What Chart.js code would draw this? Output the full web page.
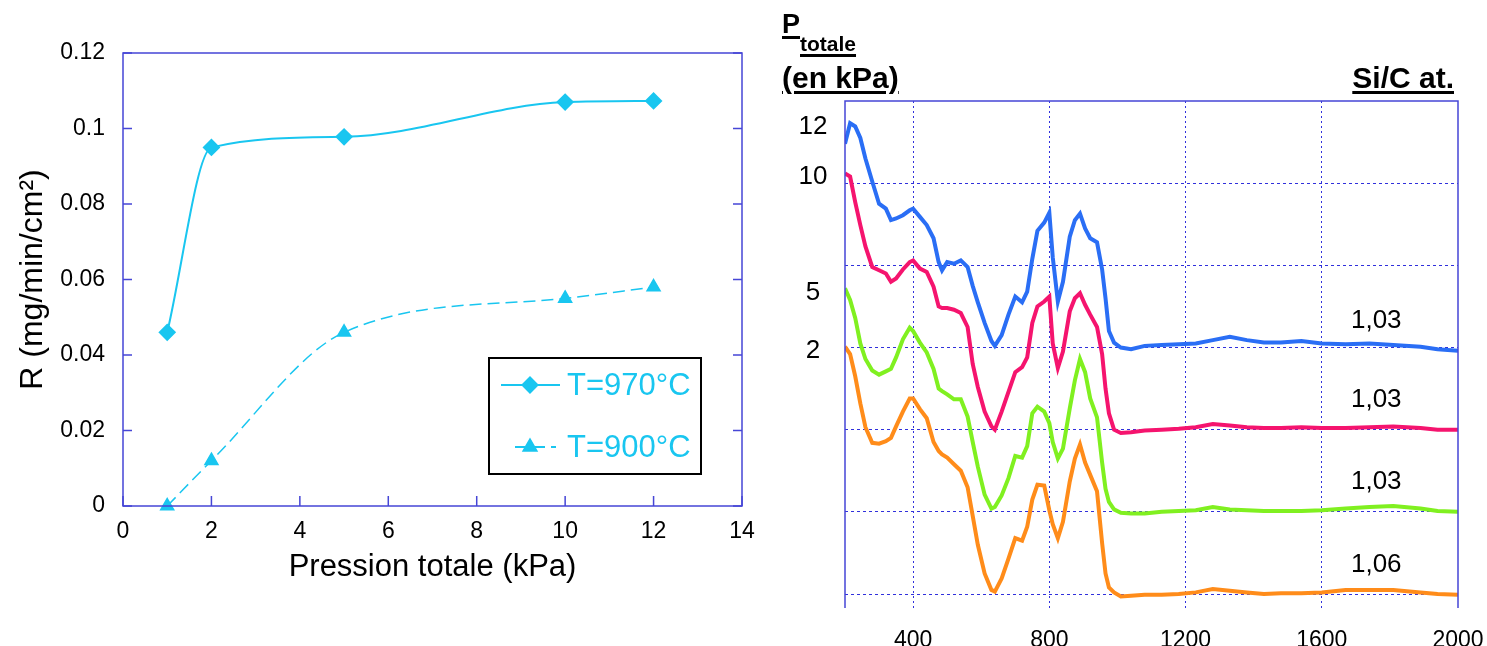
<!DOCTYPE html>
<html>
<head>
<meta charset="utf-8">
<script src="https://cdn.jsdelivr.net/npm/chart.js@4.4.0/dist/chart.umd.min.js"></script>
<style>
  body { margin: 0; background: #fff; width: 1487px; height: 646px; overflow: hidden; position: relative;
         font-family: "Liberation Sans", Arial, sans-serif; }
  #leftBox { position: absolute; left: 0; top: 0; width: 760px; height: 646px; }
  #rightBox { position: absolute; left: 760px; top: 0; width: 727px; height: 646px; }
  .hdr { position: absolute; font-weight: bold; line-height: 1; white-space: nowrap; color: #000;
         text-decoration: underline; text-decoration-thickness: 3px; text-underline-offset: 3px; }
</style>
</head>
<body>
<div id="leftBox"><canvas id="rate_chart"></canvas></div>
<div id="rightBox"><canvas id="spectra_chart"></canvas></div>
<div class="hdr" style="left:782px;top:11px;font-size:27px;">P</div>
<div class="hdr" style="left:800px;top:33px;font-size:21px;">totale</div>
<div class="hdr" style="left:782px;top:63px;font-size:30px;">(en kPa)</div>
<div class="hdr" style="right:33px;top:63px;font-size:30px;">Si/C at.</div>
<script>
// LEFT CHART DATA
const pressions = [1, 2, 5, 10, 12];
const rate970 = [0.046, 0.095, 0.0978, 0.107, 0.1073];
const rate900 = [0, 0.012, 0.046, 0.055, 0.058];
const legendNames = ["T=970°C", "T=900°C"];

// RIGHT CHART DATA (curves offset)
const shiftX = [200, 215, 230, 245, 260, 280, 300, 320, 335, 350, 370, 390, 400, 420, 440, 460, 475, 485,
  500, 520, 540, 560, 575, 590, 610, 630, 640, 660, 680, 700, 720, 735, 750, 765, 785, 800, 810, 825, 840,
  860, 875, 890, 905, 920, 940, 955, 965, 975, 990, 1010, 1040, 1080, 1130, 1180, 1230, 1280, 1330, 1380,
  1430, 1480, 1540, 1600, 1670, 1740, 1810, 1890, 1940, 2000];
const curveP12 = [5.48, 5.73, 5.69, 5.55, 5.30, 5.02, 4.75, 4.69, 4.55, 4.57, 4.61, 4.67, 4.69, 4.59, 4.49, 4.33, 4.04, 3.94,
  4.04, 4.02, 4.06, 3.98, 3.75, 3.55, 3.30, 3.08, 3.02, 3.15, 3.40, 3.62, 3.55, 3.68, 4.08, 4.42, 4.52, 4.64, 4.10, 3.56, 3.80,
  4.35, 4.55, 4.63, 4.45, 4.33, 4.28, 3.95, 3.60, 3.20, 3.06, 3.00, 2.98, 3.02, 3.03, 3.04, 3.05, 3.09, 3.13, 3.09,
  3.06, 3.06, 3.08, 3.05, 3.04, 3.05, 3.03, 3.01, 2.98, 2.96];
const curveP10 = [5.12, 5.08, 4.77, 4.49, 4.23, 3.98, 3.94, 3.90, 3.80, 3.84, 3.95, 4.04, 4.06, 3.96, 3.92, 3.74, 3.50, 3.48,
  3.48, 3.46, 3.42, 3.25, 2.80, 2.52, 2.22, 2.04, 2.00, 2.22, 2.46, 2.70, 2.76, 2.88, 3.30, 3.50, 3.56, 3.62, 3.05, 2.75, 2.95,
  3.44, 3.60, 3.66, 3.52, 3.40, 3.25, 2.92, 2.50, 2.20, 2.00, 1.96, 1.97, 1.99, 2.00, 2.01, 2.03, 2.07, 2.05, 2.03,
  2.02, 2.02, 2.03, 2.02, 2.02, 2.03, 2.04, 2.02, 2.00, 2.00];
const curveP5 = [3.72, 3.58, 3.36, 3.05, 2.86, 2.72, 2.67, 2.71, 2.74, 2.88, 3.10, 3.24, 3.20, 3.06, 2.94, 2.74, 2.50, 2.47,
  2.43, 2.37, 2.37, 2.16, 1.85, 1.55, 1.21, 1.04, 1.06, 1.20, 1.41, 1.68, 1.66, 1.80, 2.20, 2.28, 2.22, 2.08, 1.85, 1.65, 1.77,
  2.26, 2.60, 2.86, 2.70, 2.38, 2.15, 1.60, 1.28, 1.12, 1.03, 0.99, 0.98, 0.98, 1.00, 1.01, 1.02, 1.06, 1.03, 1.02,
  1.01, 1.01, 1.01, 1.02, 1.04, 1.06, 1.07, 1.04, 1.01, 1.00];
const curveP2 = [3.01, 2.92, 2.65, 2.32, 2.03, 1.84, 1.83, 1.86, 1.90, 2.04, 2.22, 2.38, 2.38, 2.25, 2.14, 1.85, 1.74, 1.70,
  1.66, 1.58, 1.50, 1.30, 0.95, 0.60, 0.25, 0.05, 0.03, 0.19, 0.43, 0.68, 0.65, 0.82, 1.15, 1.33, 1.32, 1.02, 0.85, 0.68, 0.88,
  1.37, 1.65, 1.82, 1.60, 1.45, 1.25, 0.62, 0.25, 0.08, 0.02, -0.03, -0.02, -0.01, -0.01, 0.00, 0.02, 0.06, 0.04, 0.02,
  0.00, 0.01, 0.01, 0.02, 0.05, 0.05, 0.05, 0.02, 0.00, -0.01];
const pressureLabels = ["12", "10", "5", "2"];
const ratioLabels = ["1,03", "1,03", "1,03", "1,06"];
const curveColors = ["#2a6ef5", "#f5146e", "#80f020", "#ff8c1a"];
const xTicks = [400, 800, 1200, 1600, 2000];

const FONT = '"Liberation Sans", Arial, sans-serif';
const CYAN = "#19c6f0";
const FRAME = "#4646d6";
const GRID = "#3030dc";

// keep the fixed axis sizes, no extra room for overflowing end labels
function fixWidth(w) {
  return s => { s.width = w; s.paddingTop = 0; s.paddingBottom = 0; };
}
function fixHeight(h) {
  return s => { s.height = h; s.paddingLeft = 0; s.paddingRight = 0; };
}

// LEFT CHART
const leftFrame = {
  id: "leftFrame",
  afterDraw(chart) {
    const { ctx, chartArea: a, scales: { x, y } } = chart;
    ctx.save();
    ctx.strokeStyle = FRAME;
    ctx.lineWidth = 1.5;
    ctx.strokeRect(a.left, a.top, a.right - a.left, a.bottom - a.top);
    ctx.beginPath();
    y.ticks.forEach(t => {
      const py = y.getPixelForValue(t.value);
      ctx.moveTo(a.left, py); ctx.lineTo(a.left + 9, py);
      ctx.moveTo(a.right, py); ctx.lineTo(a.right - 9, py);
    });
    x.ticks.forEach(t => {
      const px = x.getPixelForValue(t.value);
      ctx.moveTo(px, a.bottom); ctx.lineTo(px, a.bottom - 10);
    });
    ctx.stroke();

    // legend box
    const bx = a.right - 253, by = a.bottom - 148, bw = 212, bh = 116;
    ctx.fillStyle = "#fff";
    ctx.fillRect(bx, by, bw, bh);
    ctx.strokeStyle = "#000";
    ctx.lineWidth = 2;
    ctx.strokeRect(bx, by, bw, bh);
    chart.data.datasets.forEach((ds, i) => {
      const ry = by + 27 + i * 62;
      ctx.strokeStyle = CYAN;
      ctx.fillStyle = CYAN;
      ctx.lineWidth = 2;
      ctx.setLineDash(ds.borderDash || []);
      ctx.beginPath();
      ctx.moveTo(bx + 12 + i * 14, ry); ctx.lineTo(bx + 71 - i * 4, ry);
      ctx.stroke();
      ctx.setLineDash([]);
      Chart.helpers.drawPoint(ctx, { pointStyle: ds.pointStyle, radius: ds.pointRadius, rotation: 0, borderWidth: 1 }, bx + 41, ry);
      ctx.font = "31px " + FONT;
      ctx.textAlign = "left";
      ctx.textBaseline = "middle";
      ctx.fillText(ds.label, bx + 78, ry + 1);
    });
    ctx.restore();
  }
};

new Chart(document.getElementById("rate_chart"), {
  type: "line",
  data: {
    datasets: [
      {
        label: legendNames[0],
        data: pressions.map((p, i) => ({ x: p, y: rate970[i] })),
        borderColor: CYAN, backgroundColor: CYAN, borderWidth: 2,
        pointStyle: "rectRot", pointRadius: 7.5, pointBackgroundColor: CYAN, pointBorderColor: CYAN,
        cubicInterpolationMode: "monotone",
      },
      {
        label: legendNames[1],
        data: pressions.map((p, i) => ({ x: p, y: rate900[i] })),
        borderColor: CYAN, backgroundColor: CYAN, borderWidth: 1.5, borderDash: [12, 6],
        pointStyle: "triangle", pointRadius: 7.5, pointBackgroundColor: CYAN, pointBorderColor: CYAN,
        cubicInterpolationMode: "monotone",
      },
    ],
  },
  options: {
    responsive: true,
    maintainAspectRatio: false,
    animation: false,
    events: [],
    clip: false,
    layout: { padding: { top: 53, right: 18, left: 0, bottom: 0 } },
    plugins: { legend: { display: false }, tooltip: { enabled: false } },
    scales: {
      x: {
        type: "linear", min: 0, max: 14,
        afterFit: fixHeight(140),
        grid: { display: false, drawTicks: false },
        border: { display: false },
        ticks: { stepSize: 2, padding: 12, color: "#000", font: { family: FONT, size: 23 },
                 callback: v => String(v) },
        title: { display: true, text: "Pression totale (kPa)", color: "#000",
                 font: { family: FONT, size: 31 }, padding: { top: 0, bottom: 60 } },
      },
      y: {
        min: 0, max: 0.12,
        afterFit: fixWidth(123),
        grid: { display: false, drawTicks: false },
        border: { display: false },
        ticks: { stepSize: 0.02, padding: 18, color: "#000", font: { family: FONT, size: 23 },
                 callback: v => parseFloat(v.toFixed(2)).toString() },
        title: { display: true, text: "R (mg/min/cm²)", color: "#000",
                 font: { family: FONT, size: 32 }, padding: { top: 14, bottom: 0 } },
      },
    },
  },
  plugins: [leftFrame],
});

// RIGHT CHART
const rightFrame = {
  id: "rightFrame",
  afterDraw(chart) {
    const { ctx, chartArea: a, scales: { x, y } } = chart;
    ctx.save();
    ctx.strokeStyle = FRAME;
    ctx.lineWidth = 1.5;
    ctx.beginPath();
    ctx.moveTo(a.left, a.bottom); ctx.lineTo(a.left, a.top);
    ctx.lineTo(a.right, a.top); ctx.lineTo(a.right, a.bottom);
    ctx.stroke();
    ctx.fillStyle = "#000";
    ctx.font = "26px " + FONT;
    ctx.textAlign = "center";
    ctx.textBaseline = "middle";
    chart.data.datasets.forEach((ds, i) => {
      const start = Math.max(...ds.data.slice(0, 3).map(p => p.y));
      ctx.fillText(pressureLabels[i], a.left - 32, y.getPixelForValue(start) + 4);
      const end = ds.data[ds.data.length - 1].y;
      ctx.fillText(ratioLabels[i], x.getPixelForValue(1760), y.getPixelForValue(end) - 30);
    });
    ctx.restore();
  }
};

const curves = [curveP12, curveP10, curveP5, curveP2];

new Chart(document.getElementById("spectra_chart"), {
  type: "line",
  data: {
    datasets: curves.map((c, i) => ({
      label: pressureLabels[i] + " kPa",
      data: shiftX.map((s, j) => ({ x: s, y: c[j] })),
      borderColor: curveColors[i],
      borderWidth: 4,
      pointRadius: 0,
      tension: 0,
    })),
  },
  options: {
    responsive: true,
    maintainAspectRatio: false,
    animation: false,
    events: [],
    layout: { padding: { top: 101, right: 29, left: 0, bottom: 0 } },
    plugins: { legend: { display: false }, tooltip: { enabled: false } },
    scales: {
      x: {
        type: "linear", min: 200, max: 2000,
        afterFit: fixHeight(38),
        afterBuildTicks: s => { s.ticks = xTicks.map(v => ({ value: v })); },
        grid: { drawTicks: false, color: c => (c.tick && c.tick.value === 2000 ? "rgba(0,0,0,0)" : GRID), lineWidth: 1 },
        border: { display: false, dash: [2, 3] },
        ticks: { padding: 19, color: "#000", font: { family: FONT, size: 23 }, callback: v => String(v) },
      },
      y: {
        min: -0.17, max: 6,
        afterFit: fixWidth(85),
        afterBuildTicks: s => { s.ticks = [0, 1, 2, 3, 4, 5].map(v => ({ value: v })); },
        grid: { drawTicks: false, color: GRID, lineWidth: 1 },
        border: { display: false, dash: [3, 3] },
        ticks: { display: false },
      },
    },
  },
  plugins: [rightFrame],
});
</script>
</body>
</html>
